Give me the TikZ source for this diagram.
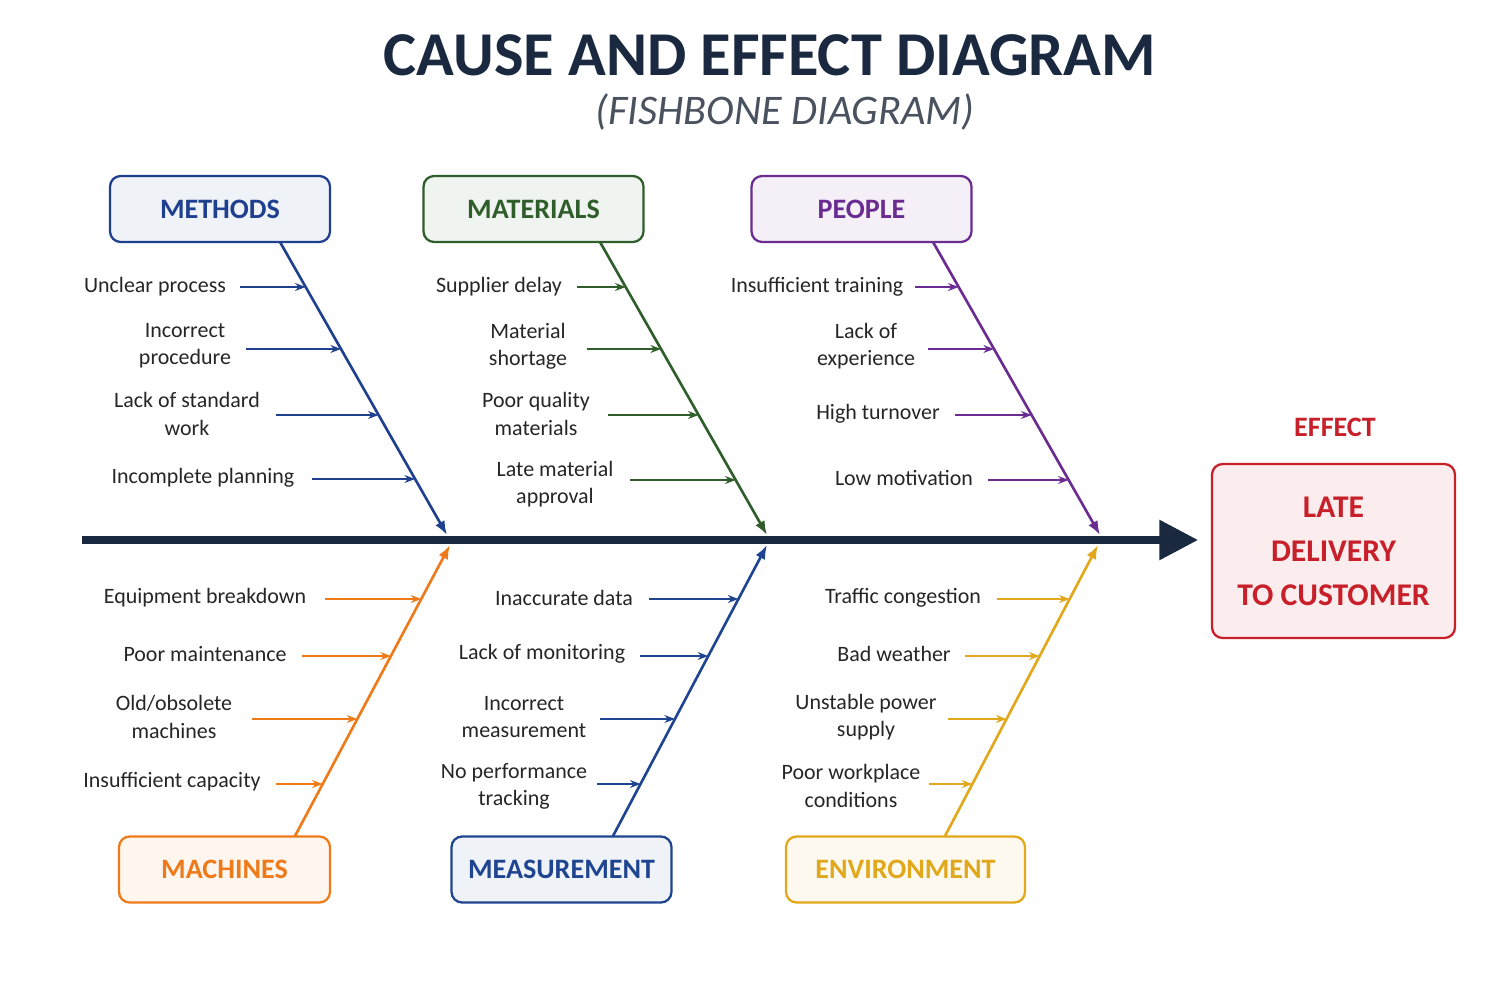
\documentclass[tikz,border=0pt]{standalone}
\usepackage{fontspec}
\setmainfont{Carlito}
\usetikzlibrary{calc,positioning,arrows.meta}
\definecolor{TitleNavy}{HTML}{1A2940}
\definecolor{SubGrey}{HTML}{4A5260}
\definecolor{MethBlue}{HTML}{1F3F8F}
\definecolor{MatGreen}{HTML}{2F5E2B}
\definecolor{PeoPurple}{HTML}{6A2C91}
\definecolor{MacOrange}{HTML}{EE7A1A}
\definecolor{MeaBlue}{HTML}{1F4590}
\definecolor{EnvGold}{HTML}{E0A81A}
\definecolor{EffRed}{HTML}{C8202A}
\tikzset{
  catbox/.style={draw=#1, fill=#1!7, rounded corners=6pt, line width=1.3pt,
    minimum width=4.4cm, minimum height=1.32cm, text=#1, font=\fontsize{16}{19}\selectfont\bfseries},
  cause/.style={align=center, font=\fontsize{12.5}{15.5}\selectfont, text=black!85},
  bone/.style={draw=#1, line width=1.5pt, -{Latex[length=8pt,width=6pt]}},
  twig/.style={draw=#1, line width=1pt, -{Stealth[length=6pt,width=4.5pt]}}
}
\begin{document}
\begin{tikzpicture}[x=0.02cm, y=-0.02cm]
\useasboundingbox (0,0) rectangle (1500,1000);
% title
\node[font=\fontsize{35.5}{40}\selectfont\bfseries, text=TitleNavy] (title) at (770,55) {CAUSE AND EFFECT DIAGRAM};
\node[font=\fontsize{24}{28}\selectfont\itshape, text=SubGrey] (subtitle) at (785,112) {(FISHBONE DIAGRAM)};
% spine
\coordinate (tail) at (82,540);
\coordinate (head) at (1198,540);
\draw[TitleNavy, line width=4pt, -{Triangle[length=22pt,width=22pt]}] (tail) -- (head);
% effect
\node[draw=EffRed, fill=EffRed!8, rounded corners=6pt, line width=1.3pt, minimum width=4.86cm, minimum height=3.48cm,
  align=center, text=EffRed, font=\fontsize{18}{25}\selectfont\bfseries] (effect) at (1333.5,551) {LATE\\DELIVERY\\TO CUSTOMER};
\node[text=EffRed, font=\fontsize{16}{19}\selectfont\bfseries] (efflabel) at (1335,427) {EFFECT};
% categories
\node[catbox=MethBlue] (methods) at (220,209) {METHODS};
\node[catbox=MatGreen] (materials) at (533.5,209) {MATERIALS};
\node[catbox=PeoPurple] (people) at (861.5,209) {PEOPLE};
\node[catbox=MacOrange, minimum width=4.22cm] (machines) at (224.5,869.5) {MACHINES};
\node[catbox=MeaBlue] (measurement) at (561.5,869.5) {MEASUREMENT};
\node[catbox=EnvGold, minimum width=4.78cm] (environment) at (905.5,869.5) {ENVIRONMENT};
% bones
\coordinate (mA) at (280,242); \coordinate (mB) at (447,535);
\coordinate (tA) at (600,242); \coordinate (tB) at (767,535);
\coordinate (pA) at (933,242); \coordinate (pB) at (1100,535);
\coordinate (cA) at (295,836); \coordinate (cB) at (450,545);
\coordinate (sA) at (613,836); \coordinate (sB) at (767,545);
\coordinate (eA) at (945,836); \coordinate (eB) at (1098,545);
\draw[bone=MethBlue] (mA) -- (mB);
\draw[bone=MatGreen] (tA) -- (tB);
\draw[bone=PeoPurple] (pA) -- (pB);
\draw[bone=MacOrange] (cA) -- (cB);
\draw[bone=MeaBlue] (sA) -- (sB);
\draw[bone=EnvGold] (eA) -- (eB);
% top causes: name/colour/bone/text x/text y/arrow start/arrow y/label
\foreach \n/\col/\b/\tx/\ty/\sx/\ay/\lab in {
  ma/MethBlue/m/155/287/240/287/{Unclear process},
  mb/MethBlue/m/185/346/246/349/{Incorrect\\procedure},
  mc/MethBlue/m/187/414/276/415/{Lack of standard\\work},
  md/MethBlue/m/203/478/312/479/{Incomplete planning},
  ta/MatGreen/t/499/287/577/287/{Supplier delay},
  tb/MatGreen/t/528/346/587/349/{Material\\shortage},
  tc/MatGreen/t/536/414/608/415/{Poor quality\\materials},
  td/MatGreen/t/555/484/630/480/{Late material\\approval},
  pa/PeoPurple/p/817/287/915/287/{Insufficient training},
  pb/PeoPurple/p/866/346/928/349/{Lack of\\experience},
  pc/PeoPurple/p/878/414/955/415/{High turnover},
  pd/PeoPurple/p/904/478/988/480/{Low motivation}} {
  \node[cause] (\n) at (\tx,\ty) {\lab};
  \coordinate (\n s) at (\sx,\ay);
  \coordinate (\n e) at ($(\b A)!{(\ay-242)/293}!(\b B)$);
  \draw[twig=\col] (\n s) -- (\n e);
}
% bottom causes
\foreach \n/\col/\b/\tx/\ty/\sx/\ay/\lab in {
  ca/MacOrange/c/205/598/325/599/{Equipment breakdown},
  cb/MacOrange/c/205/654/302/656/{Poor maintenance},
  cc/MacOrange/c/174/717/252/719/{Old/obsolete\\machines},
  cd/MacOrange/c/172/782/276/784/{Insufficient capacity},
  sa/MeaBlue/s/564/598/649/599/{Inaccurate data},
  sb/MeaBlue/s/542/654/640/656/{Lack of monitoring},
  sc/MeaBlue/s/524/717/600/719/{Incorrect\\measurement},
  sd/MeaBlue/s/514/786/597/784/{No performance\\tracking},
  ea/EnvGold/e/903/598/997/599/{Traffic congestion},
  eb/EnvGold/e/894/654/965/656/{Bad weather},
  ec/EnvGold/e/866/717/948/719/{Unstable power\\supply},
  ed/EnvGold/e/851/786/929/784/{Poor workplace\\conditions}} {
  \node[cause] (\n) at (\tx,\ty) {\lab};
  \coordinate (\n s) at (\sx,\ay);
  \coordinate (\n e) at ($(\b A)!{(836-\ay)/291}!(\b B)$);
  \draw[twig=\col] (\n s) -- (\n e);
}
\end{tikzpicture}
\end{document}
